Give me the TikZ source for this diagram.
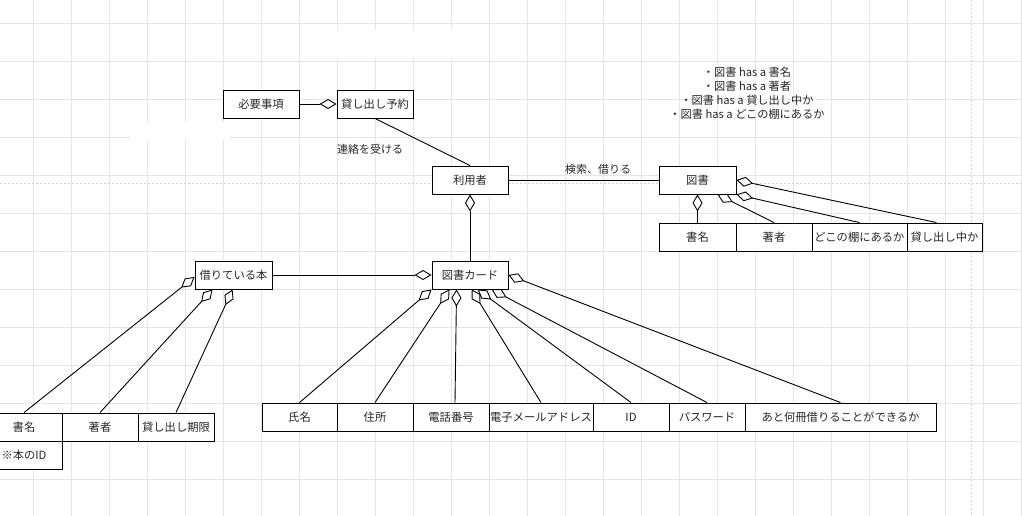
\documentclass[tikz,border=0pt]{standalone}
\usepackage{fontspec}
\setmainfont{Noto Sans CJK JP}
\usetikzlibrary{arrows.meta}
\begin{document}
\begin{tikzpicture}[x=1pt,y=-1pt,
  gridline/.style={draw=black!10, line width=0.6pt},
  pagebreak/.style={draw=black!18, line width=0.5pt, dash pattern=on 2pt off 2pt},
  box/.style={draw=black, line width=0.9pt, fill=white, minimum height=28pt,
    inner sep=0pt, text=black!85, font=\fontsize{11.3}{13}\selectfont},
  lbl/.style={inner sep=0pt, text=black!85, font=\fontsize{11}{13}\selectfont},
  note/.style={inner sep=0pt, align=center, text=black!85,
    font=\fontsize{11.2}{14}\selectfont},
  link/.style={draw=black, line width=0.9pt},
  agg/.style={link, -{Diamond[length=17pt, width=10pt, fill=white, line width=0.9pt]}}
]
\useasboundingbox (0,0) rectangle (1022,516);
\fill[white] (0,0) rectangle (1022,516);

% background grid
\foreach \gx in {33,71,...,1022} \draw[gridline] (\gx,0) -- (\gx,516);
\foreach \gy in {23,61,...,516} \draw[gridline] (0,\gy) -- (1022,\gy);
\fill[white] (300,30) rectangle (470,58);
\fill[white] (130,122) rectangle (230,140);
% page boundaries
\draw[pagebreak] (971,0) -- (971,516);
\draw[pagebreak] (0,183) -- (1022,183);

% reservation
\node[box, minimum width=76pt] (need) at (261,104) {必要事項};
\node[box, minimum width=76pt] (resv) at (375,104) {貸し出し予約};

% user, book, library card
\node[box, minimum width=76pt] (user) at (470,180) {利用者};
\node[box, minimum width=77pt] (book) at (697.5,180) {図書};
\node[box, minimum width=76pt] (card) at (470,275) {図書カード};
\node[box, minimum width=77pt] (lent) at (233.5,275) {借りている本};

% attributes of the book
\node[box, minimum width=77pt] (bt) at (697.5,237) {書名};
\node[box, minimum width=76pt] (ba) at (774,237) {著者};
\node[box, minimum width=95pt] (bs) at (859.5,237) {どこの棚にあるか};
\node[box, minimum width=75pt] (bl) at (944.5,237) {貸し出し中か};

% attributes of the borrowed book
\node[box, minimum width=76pt] (lt) at (24,427) {書名};
\node[box, minimum width=76pt] (la) at (100,427) {著者};
\node[box, minimum width=76pt] (ld) at (176,427) {貸し出し期限};
\node[box, minimum width=76pt] (lid) at (24,455) {※本のID};

% attributes of the library card
\node[box, minimum width=75pt] (cn) at (299.5,417) {氏名};
\node[box, minimum width=76pt] (cad) at (375,417) {住所};
\node[box, minimum width=76pt] (ctel) at (451,417) {電話番号};
\node[box, minimum width=104pt] (cmail) at (541,417) {電子メールアドレス};
\node[box, minimum width=76pt] (cid) at (631,417) {ID};
\node[box, minimum width=76pt] (cpw) at (707,417) {パスワード};
\node[box, minimum width=191pt] (crem) at (840.5,417) {あと何冊借りることができるか};

% notes
\node[note] (notes) at (747,93) {・図書 has a 書名\\・図書 has a 著者\\・図書 has a 貸し出し中か\\・図書 has a どこの棚にあるか};

% associations
\draw[agg] (need.east) -- (resv.west);
\draw[link] (resv.south) -- (user.north);
\node[lbl] (contact) at (370,149) {連絡を受ける};
\draw[link] (user.east) -- (book.west);
\node[lbl] (search) at (598,169) {検索、借りる};
\draw[agg] (card.north) -- (user.south);
\draw[agg] (lent.east) -- (card.west);

% book aggregation
\draw[agg] (bt.north) -- (book.south);
\draw[agg] (ba.north) -- ([xshift=20pt]book.south);
\draw[agg] (bs.north) -- (book.south east);
\draw[agg] ([xshift=-8pt]bl.north) -- (book.east);

% borrowed book aggregation
\draw[agg] (lt.north) -- ([yshift=-2pt]lent.west);
\draw[agg] (la.north) -- ([xshift=18pt]lent.south west);
\draw[agg] (ld.north) -- ([xshift=38pt]lent.south west);

% library card aggregation
\draw[agg] (cn.north) -- (card.south west);
\draw[agg] (cad.north) -- ([xshift=18pt]card.south west);
\draw[agg] ([xshift=4pt]ctel.north) -- ([xshift=25pt]card.south west);
\draw[agg] (cmail.north) -- ([xshift=40pt]card.south west);
\draw[agg] (cid.north) -- ([xshift=46pt]card.south west);
\draw[agg] (cpw.north) -- ([xshift=60pt]card.south west);
\draw[agg] (crem.north) -- (card.east);
\end{tikzpicture}
\end{document}
